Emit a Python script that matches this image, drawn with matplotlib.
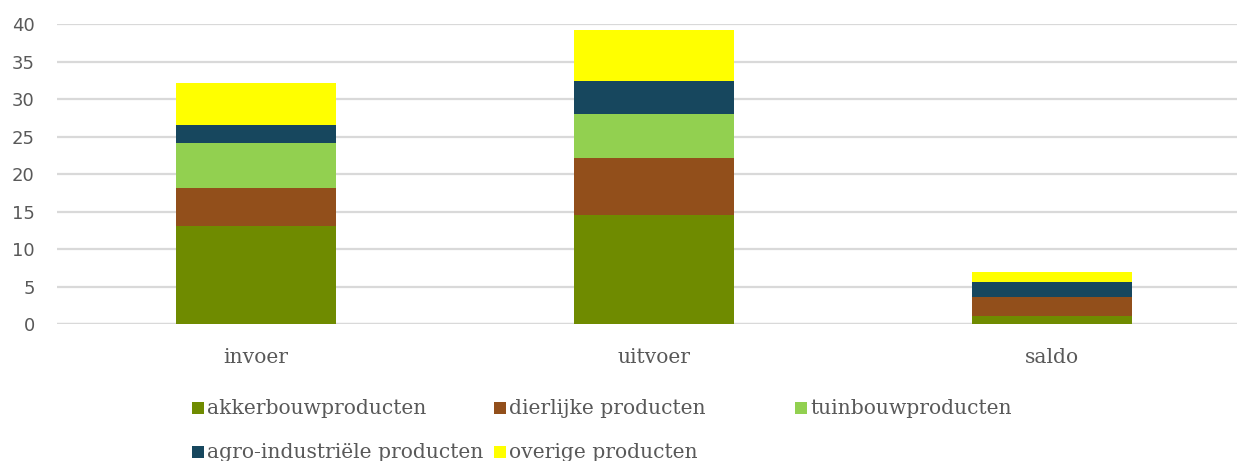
import numpy as np
import matplotlib.pyplot as plt
from matplotlib.patches import Rectangle

# categorieen en reeksen (mld euro)
categorieen = ["invoer", "uitvoer", "saldo"]
reeksen = ["akkerbouwproducten", "dierlijke producten", "tuinbouwproducten",
           "agro-industriële producten", "overige producten"]
akkerbouw = [13.1, 14.5, 1.1]
dierlijk = [5.1, 7.6, 2.45]
tuinbouw = [6.0, 5.9, 0.1]
agro = [2.4, 4.4, 1.9]
overig = [5.5, 6.8, 1.4]
kleuren = ["#6f8b00", "#924f1b", "#92d050", "#17475e", "#ffff00"]

waarden = [akkerbouw, dierlijk, tuinbouw, agro, overig]
tekstkleur = "#595959"

fig = plt.figure(figsize=(12.39, 4.61), dpi=100)
ax = fig.add_axes([57 / 1239, 137 / 461, 1180 / 1239, 300 / 461])

x = np.arange(len(categorieen))
onder = np.zeros(len(categorieen))
for naam, w, kl in zip(reeksen, waarden, kleuren):
    ax.bar(x, w, width=0.402, bottom=onder, color=kl, label=naam, zorder=3)
    onder += np.array(w)

ax.set_ylim(0, 40)
ax.set_xlim(-0.5, 2.465)
ax.set_yticks(np.arange(0, 41, 5))
ax.yaxis.grid(True, color="#d9d9d9", linewidth=1.6, zorder=0)
ax.axhline(0, color="#d9d9d9", linewidth=1.6, zorder=1)
for s in ax.spines.values():
    s.set_visible(False)
ax.tick_params(axis="both", length=0)
ax.tick_params(axis="y", labelsize=13, labelcolor=tekstkleur, pad=16)
ax.set_xticks(x)
ax.set_xticklabels(categorieen, fontsize=14.6, color=tekstkleur,
                   family="DejaVu Serif")
ax.tick_params(axis="x", pad=17)

# legenda handmatig (kolommen op vaste afstand zoals in Excel)
posities = [(192, 408), (494, 408), (795, 408), (192, 452), (494, 452)]
for (px, py), naam, kl in zip(posities, reeksen, kleuren):
    fig.patches.append(Rectangle((px / 1239, 1 - (py + 6) / 461), 12 / 1239, 12 / 461,
                                 transform=fig.transFigure, facecolor=kl,
                                 edgecolor="none"))
    fig.text((px + 15) / 1239, 1 - py / 461, naam, fontsize=14.6,
             color=tekstkleur, family="DejaVu Serif", va="center", ha="left")

fig.savefig("out.png", dpi=100)
